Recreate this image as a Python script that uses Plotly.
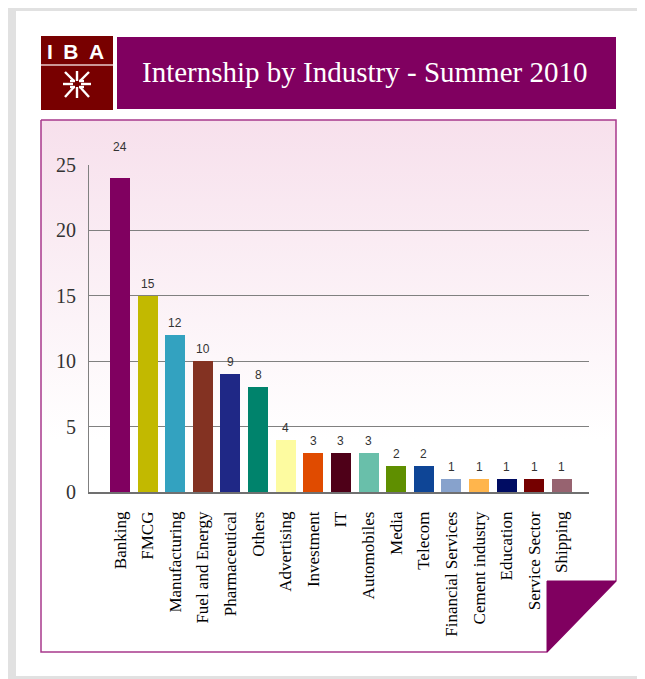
import plotly.graph_objects as go

# ---- data ----
categories = ["Banking", "FMCG", "Manufacturing", "Fuel and Energy", "Pharmaceutical",
              "Others", "Advertising", "Investment", "IT", "Automobiles", "Media",
              "Telecom", "Financial Services", "Cement industry", "Education",
              "Service Sector", "Shipping"]
values = [24, 15, 12, 10, 9, 8, 4, 3, 3, 3, 2, 2, 1, 1, 1, 1, 1]
bar_colors = ["#800060", "#c2b900", "#33a2c0", "#833222", "#1f2886", "#00836c",
              "#fdfba0", "#e04b00", "#4e0018", "#69bfaa", "#5f8f00", "#0e4596",
              "#87a2cc", "#ffb54c", "#000c62", "#750000", "#976370"]
y_ticks = [0, 5, 10, 15, 20, 25]
title_text = "Internship by Industry - Summer 2010"

# page body offset (browser default margin) and figure size
OFF = 8
SW, SH = 645, 679            # screen size
W, H = SW - OFF, SH - OFF    # figure size
PURPLE = "#800060"
SERIF = "Liberation Serif"


def dx(s):
    return (s - OFF) / W


def dy(s):
    return 1 - (s - OFF) / H


fig = go.Figure()

# ---- background decorations on a full-page pixel subplot (x / y) ----
panel_x = [41, 616, 616, 547, 41, 41]
panel_y = [120, 120, 581, 652, 652, 120]
fig.add_trace(go.Scatter(
    x=panel_x, y=panel_y, mode="lines", fill="toself",
    line=dict(color="#a8388c", width=1.5),
    fillgradient=dict(type="vertical", start=120, stop=652,
                      colorscale=[[0, "#f7e0ec"], [0.6, "#ffffff"], [1, "#ffffff"]]),
    hoverinfo="skip", showlegend=False, xaxis="x", yaxis="y"))
fig.add_trace(go.Scatter(
    x=[547, 616, 547, 547], y=[581, 581, 652, 581], mode="lines", fill="toself",
    fillcolor=PURPLE, line=dict(color=PURPLE, width=1),
    hoverinfo="skip", showlegend=False, xaxis="x", yaxis="y"))

# ---- bars on subplot x2 / y2 ----
fig.add_trace(go.Bar(
    x=categories, y=values, marker=dict(color=bar_colors, line=dict(width=0)),
    width=0.724, showlegend=False, xaxis="x2", yaxis="y2", hoverinfo="x+y"))

shapes = [
    dict(type="rect", xref="x", yref="y", x0=16, x1=641, y0=11, y1=676,
         fillcolor="#ffffff", line=dict(width=0), layer="below"),
    dict(type="rect", xref="x", yref="y", x0=41, x1=113, y0=36, y1=110,
         fillcolor="#780000", line=dict(width=0), layer="below"),
    dict(type="line", xref="x", yref="y", x0=41, x1=113, y0=65, y1=65,
         line=dict(color="#e8c8c8", width=1.5), layer="below"),
    dict(type="rect", xref="x", yref="y", x0=117, x1=616, y0=37, y1=109,
         fillcolor=PURPLE, line=dict(width=0), layer="below"),
]
# logo emblem strokes
emblem = [((77, 71), (77, 81)), ((65, 72), (74, 81)), ((89, 72), (80, 81)),
          ((63, 84), (73, 84)), ((81, 84), (91, 84)),
          ((77, 87), (77, 98)), ((74, 87), (65, 97)), ((80, 87), (89, 97)),
          ((70, 81), (75, 81)), ((79, 81), (84, 81)),
          ((70, 87), (75, 87)), ((79, 87), (84, 87))]
for (a, b) in emblem:
    shapes.append(dict(type="line", xref="x", yref="y", x0=a[0], y0=a[1], x1=b[0], y1=b[1],
                       line=dict(color="#ffffff", width=2.4)))
# end tick at right of x axis
shapes.append(dict(type="line", xref="x2 domain", yref="y2", x0=0.996, x1=0.996,
                   y0=0, y1=-0.4, line=dict(color="#707070", width=1.5)))

annotations = [
    dict(text=title_text, xref="x", yref="y", x=364, y=72, showarrow=False,
         font=dict(family=SERIF, size=29, color="#ffffff"), xanchor="center", yanchor="middle"),
    dict(text="I\u2002B\u2002A", xref="x", yref="y", x=75, y=51, showarrow=False,
         font=dict(family="Liberation Sans", size=21, color="#ffffff", weight="bold"),
         xanchor="center", yanchor="middle"),
]
vmax = max(values)
for c, v in zip(categories, values):
    annotations.append(dict(
        text=str(v), x=c, y=v, xref="x2", yref="y2", showarrow=False,
        yanchor="bottom", yshift=22 if v == vmax else 3,
        font=dict(family="Liberation Sans", size=12, color="#333333")))

fig.update_layout(
    width=W, height=H, margin=dict(l=0, r=0, t=0, b=0, autoexpand=False),
    paper_bgcolor="#e1e1e1", plot_bgcolor="rgba(0,0,0,0)",
    shapes=shapes, annotations=annotations, bargap=0,
    xaxis=dict(domain=[0, 1], range=[OFF, SW], visible=False, fixedrange=True,
               automargin=False),
    yaxis=dict(domain=[0, 1], range=[SH, OFF], visible=False, fixedrange=True,
               automargin=False),
    xaxis2=dict(domain=[dx(89), dx(589)], anchor="y2", type="category",
                range=[-1.122, 16.98], tickangle=-90, ticks="",
                showline=True, linecolor="#707070", linewidth=1.5,
                showgrid=False, ticklabelstandoff=11, automargin=False,
                tickfont=dict(family=SERIF, size=17, color="#000000")),
    yaxis2=dict(domain=[dy(492), dy(165)], anchor="x2", range=[0, 25],
                tickvals=y_ticks, ticks="", showline=True, linecolor="#808080",
                linewidth=1, showgrid=True, gridcolor="#808080", gridwidth=1,
                zeroline=False, ticklabelstandoff=8, automargin=False,
                tickfont=dict(family=SERIF, size=20, color="#333333")),
)

fig.write_html("out.html")
